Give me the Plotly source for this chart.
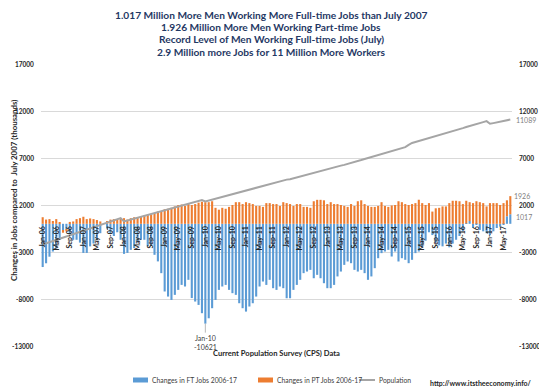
import plotly.graph_objects as go

MONTHS = ["Jan", "Feb", "Mar", "Apr", "May", "Jun", "Jul", "Aug", "Sep", "Oct", "Nov", "Dec"]
categories = [f"{m}-{y:02d}" for y in range(6, 18) for m in MONTHS][:139]  # Jan-06 .. Jul-17
tick_labels = categories[::4]

ft_changes = [
    -4600, -4200, -3500, -2950, -2600, -1700, -750, -600, -1000, -1700, -1700, -2000,
    -3100, -3100, -2400, -2100, -1700, -1000, 0, -500, -1000, -1300, -900, -1700,
    -3200, -3100, -2770, -2590, -2000, -1700, -1700, -2400, -2240, -3300, -4000, -5250,
    -7200, -7740, -8100, -7560, -7030, -6500, -6670, -5960, -7900, -8270, -8630, -9510,
    -10621, -10050, -8980, -8100, -7030, -6670, -6500, -7030, -7380, -7560, -8450, -8980,
    -9340, -8800, -8450, -7740, -6670, -6140, -6500, -5960, -6850, -7030, -6670, -6850,
    -7920, -7920, -7030, -6500, -5960, -5250, -5080, -4900, -5790, -5430, -5790, -6320,
    -6850, -6850, -6500, -5600, -5080, -4370, -4010, -4190, -4900, -5080, -4900, -5250,
    -5960, -5600, -4720, -3660, -3120, -2950, -2770, -3480, -2950, -4010, -3660, -3830,
    -4190, -3830, -3120, -2950, -2500, -1800, -900, -1200, -2000, -2300, -2400, -2100,
    -2500, -2100, -1700, -1300, -800, 50, 300, -450, -100, -650, -800, -1000,
    -1200, -800, -450, -300, -50, 800, 1017,
]

pt_changes = [
    700, 450, 500, 300, 500, 150, -200, -200, 200, 250, 500, 600,
    750, 500, 570, 500, 400, 250, 0, 300, 450, 500, 500, 600,
    600, 450, 600, 700, 700, 800, 900, 950, 1000, 1150, 1300, 1350,
    1550, 1600, 1700, 1850, 2000, 2050, 1900, 2100, 2000, 2100, 2250, 2350,
    2300, 2300, 2400, 1700, 1500, 1700, 1600, 1800, 2000, 2300, 2300, 2100,
    2300, 2200, 2100, 1900, 1900, 1800, 2200, 2200, 2100, 2100, 1900, 2300,
    2200, 2100, 1900, 2100, 2100, 1800, 1800, 1700, 2400, 2550, 2550, 2500,
    2100, 2300, 2100, 2100, 2000, 1900, 1800, 2100, 1900, 2400, 2500, 2100,
    1900, 1800, 1800, 1900, 2300, 1900, 1800, 1950, 2000, 2400, 2300, 2100,
    2000, 2100, 2200, 2560, 2200, 2000, 2200, 1300, 1650, 1700, 1850, 1850,
    2200, 2450, 2450, 2400, 2100, 2400, 2000, 2200, 2400, 2300, 2200, 1850,
    2200, 2200, 2200, 2000, 2200, 1700, 1926,
]

population = [
    -2200, -2080, -1960, -1830, -1710, -1590, -1470, -1350, -1220, -1100, -980, -850,
    -730, -610, -490, -370, -240, -120, 0, 120, 240, 360, 480, 600,
    250, 350, 450, 550, 650, 740, 840, 940, 1030, 1130, 1230, 1330,
    1430, 1530, 1620, 1720, 1820, 1920, 2020, 2120, 2220, 2320, 2420, 2520,
    2380, 2480, 2580, 2680, 2780, 2880, 2980, 3080, 3180, 3280, 3380, 3480,
    3580, 3680, 3780, 3880, 3980, 4080, 4180, 4280, 4380, 4480, 4580, 4680,
    4700, 4730, 4830, 4940, 5040, 5150, 5260, 5360, 5470, 5570, 5660, 5750,
    5830, 5920, 6010, 6100, 6190, 6270, 6360, 6450, 6560, 6670, 6780, 6890,
    7000, 7110, 7220, 7330, 7440, 7550, 7650, 7750, 7860, 7960, 8060, 8160,
    8400, 8600, 8700, 8800, 8900, 9000, 9100, 9200, 9300, 9400, 9500, 9600,
    9700, 9820, 9940, 10060, 10180, 10300, 10420, 10520, 10620, 10720, 10820, 10920,
    10640, 10710, 10790, 10860, 10940, 11010, 11089,
]

y_ticks = [-13000, -8000, -3000, 2000, 7000, 12000, 17000]
y_range = [-13000, 17000]

title_lines = [
    "1.017 Million More Men Working More Full-time Jobs than July 2007",
    "1.926 Million More Men Working Part-time Jobs",
    "Record Level of Men Working Full-time Jobs (July)",
    "2.9 Million more Jobs for 11 Million More Workers",
]
series_names = ["Changes in FT Jobs 2006-17", "Changes in PT Jobs 2006-17", "Population"]

BLUE = "#5b9bd5"
ORANGE = "#ed7d31"
GREY = "#a5a5a5"
NAVY = "#1f3864"
TXT = "#404040"
DARK = "#262626"
FONT = "Lato"

# plot area in pixels
L, R, T, B = 41, 512, 64, 346
W, H = R - L, B - T


def px(x):
    return (x - L) / W


def py(y):
    return (B - y) / H


fig = go.Figure()
fig.add_trace(go.Bar(x=categories, y=ft_changes, name=series_names[0],
                     marker=dict(color=BLUE, line=dict(width=0))))
fig.add_trace(go.Bar(x=categories, y=pt_changes, name=series_names[1],
                     marker=dict(color=ORANGE, line=dict(width=0))))
fig.add_trace(go.Scatter(x=categories, y=population, name=series_names[2], mode="lines",
                         line=dict(color=GREY, width=2), yaxis="y2"))

zero_pos = (0 - y_range[0]) / (y_range[1] - y_range[0])

fig.update_layout(
    width=539, height=390,
    margin=dict(l=L, r=539 - R, t=T, b=390 - B, autoexpand=False),
    paper_bgcolor="white", plot_bgcolor="white",
    barmode="relative", bargap=0.38,
    font=dict(family=FONT, color=TXT),
    showlegend=False,
    xaxis=dict(
        type="category", range=[-0.5, len(categories) - 0.5],
        tickmode="array", tickvals=tick_labels,
        ticktext=[f"<b>{t}</b>" for t in tick_labels],
        tickangle=-90, tickfont=dict(size=7, color=DARK),
        anchor="free", position=zero_pos, showline=False, ticks="",
        showgrid=False, zeroline=False, automargin=False,
    ),
    yaxis=dict(
        range=y_range, tickmode="array", tickvals=y_ticks, showticklabels=False,
        showgrid=True, gridcolor="#d9d9d9", gridwidth=1, zeroline=False,
        showline=False, ticks="", automargin=False,
    ),
    yaxis2=dict(
        range=y_range, tickmode="array", tickvals=y_ticks, showticklabels=False,
        overlaying="y", side="right", showgrid=False, zeroline=False,
        showline=False, ticks="", automargin=False,
    ),
)

annotations = []
# title lines
for line, yc in zip(title_lines, [14.5, 26.8, 39.2, 51.7]):
    annotations.append(dict(text=f"<b>{line}</b>", xref="paper", yref="paper",
                            x=px(271), y=py(yc), xanchor="center", yanchor="middle",
                            showarrow=False, font=dict(size=10.2, color=NAVY)))
# y tick labels on both sides
for v in y_ticks:
    annotations.append(dict(text=f"<b>{v}</b>", xref="paper", yref="y", x=px(36), y=v,
                            xanchor="right", yanchor="middle", showarrow=False,
                            font=dict(size=6.5, color=DARK)))
    annotations.append(dict(text=f"<b>{v}</b>", xref="paper", yref="y2", x=px(517), y=v,
                            xanchor="left", yanchor="middle", showarrow=False,
                            font=dict(size=6.5, color=DARK)))

imin = ft_changes.index(min(ft_changes))
last = categories[-1]
annotations += [
    dict(text="<b>Changes in Jobs compared to  July 2007 (thousands)</b>", textangle=-90,
         xref="paper", yref="paper", x=px(14), y=py(190), xanchor="center",
         yanchor="middle", showarrow=False, font=dict(size=7.9, color=DARK)),
    dict(text="<b>Current Population Survey (CPS) Data</b>", xref="paper", yref="paper",
         x=px(276), y=py(353), xanchor="center", yanchor="middle", showarrow=False,
         font=dict(size=7.6, color=DARK)),
    dict(text="<b>http://www.itstheeconomy.info/</b>", xref="paper", yref="paper",
         x=px(481), y=py(383), xanchor="center", yanchor="middle", showarrow=False,
         font=dict(size=7, color=DARK)),
    dict(text=f"{categories[imin]}<br>{ft_changes[imin]}",
         x=categories[imin], y=ft_changes[imin],
         xref="x", yref="y", showarrow=True, arrowhead=0, arrowwidth=0.8,
         arrowcolor="#a6a6a6", ax=0, ay=19, font=dict(size=7, color=TXT)),
    dict(text=f"{population[-1]}", x=last, y=population[-1], xref="x", yref="y2",
         xanchor="left", xshift=4, yanchor="middle", showarrow=False,
         font=dict(size=7, color="#7f7f7f")),
    dict(text=f"{pt_changes[-1]}", x=last, y=ft_changes[-1] + pt_changes[-1], xref="x",
         yref="y", xanchor="left", xshift=2, yanchor="middle", showarrow=False,
         font=dict(size=7, color="#7f7f7f")),
    dict(text=f"{ft_changes[-1]}", x=last, y=ft_changes[-1] * 0.7, xref="x", yref="y",
         xanchor="left", xshift=4, yanchor="middle", showarrow=False,
         font=dict(size=7, color="#7f7f7f")),
]

# manual legend
shapes = [
    dict(type="rect", xref="paper", yref="paper", x0=px(133), x1=px(148),
         y0=py(382.5), y1=py(377.5), fillcolor=BLUE, line=dict(width=0)),
    dict(type="rect", xref="paper", yref="paper", x0=px(258), x1=px(273),
         y0=py(382.5), y1=py(377.5), fillcolor=ORANGE, line=dict(width=0)),
    dict(type="line", xref="paper", yref="paper", x0=px(359), x1=px(375),
         y0=py(380), y1=py(380), line=dict(color=GREY, width=2)),
]
for name, xl in zip(series_names, [150, 275, 377]):
    annotations.append(dict(text=name, xref="paper", yref="paper", x=px(xl), y=py(380),
                            xanchor="left", yanchor="middle", showarrow=False,
                            font=dict(size=6.8, color=TXT)))

fig.update_layout(annotations=annotations, shapes=shapes)

fig.write_html("out.html", config={"displayModeBar": False},
               post_script="document.body.style.margin='0px';")
